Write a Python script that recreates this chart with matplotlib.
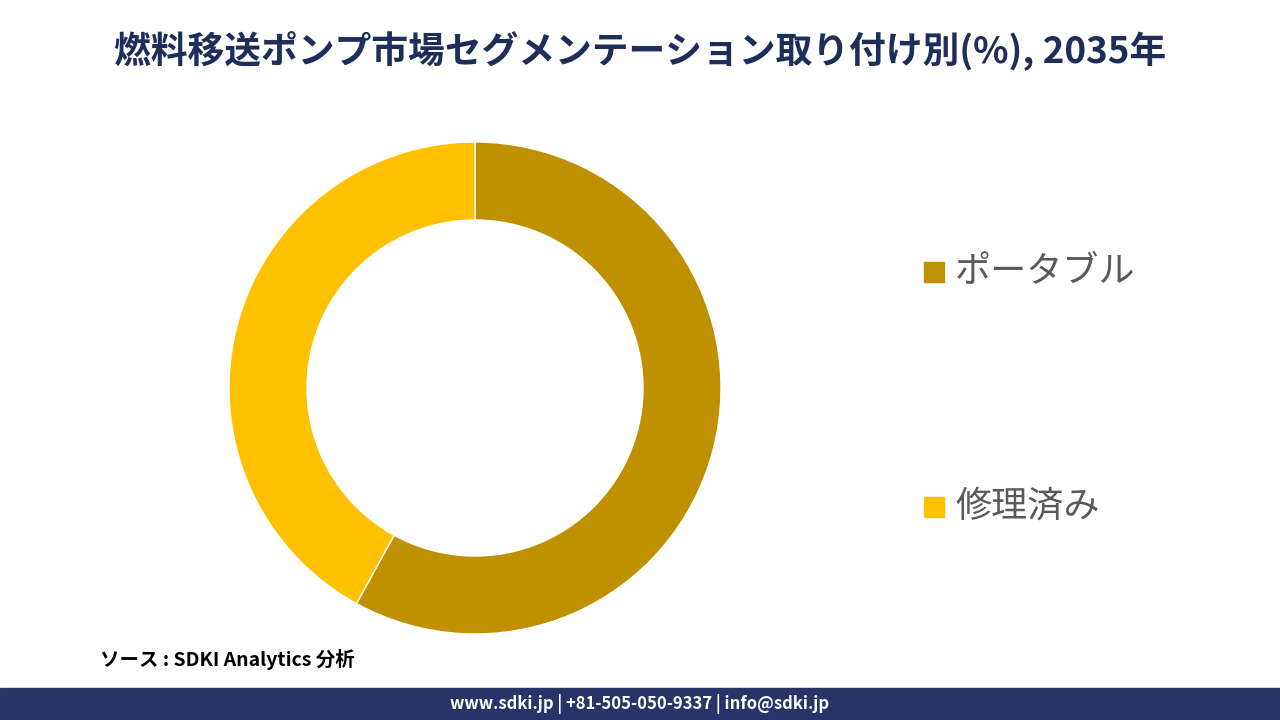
import matplotlib.pyplot as plt
from matplotlib.patches import Rectangle

plt.rcParams['font.family'] = ['Noto Sans CJK JP', 'DejaVu Sans']

title = "燃料移送ポンプ市場セグメンテーション取り付け別(%), 2035年"
labels = ["ポータブル", "修理済み"]
shares = [58, 42]
colors = ["#BF9000", "#FFC000"]

fig = plt.figure(figsize=(12.8, 7.2), dpi=100)
fig.patch.set_facecolor("white")

# donut
ax = fig.add_axes([475 / 1280 - 250 / 1280, 1 - (388 + 250) / 720, 500 / 1280, 500 / 720])
ax.pie(shares, colors=colors, startangle=90, counterclock=False, radius=246 / 250,
       wedgeprops=dict(width=78 / 250, edgecolor="white", linewidth=1))
ax.set_xlim(-1, 1)
ax.set_ylim(-1, 1)
ax.set_aspect("equal")
ax.axis("off")

# title
fig.text(0.5, 1 - 50 / 720, title, ha="center", va="center", fontsize=26.5,
         fontweight="bold", color="#1F2D5A")

# legend
for i, (lab, col) in enumerate(zip(labels, colors)):
    y = 1 - (272 + i * 235) / 720
    fig.patches.append(Rectangle((924 / 1280, y - 10 / 720), 20 / 1280, 20 / 720,
                                 transform=fig.transFigure, color=col))
    fig.text(955 / 1280, y, lab, ha="left", va="center", fontsize=26, color="#595959")

# source
fig.text(100 / 1280, 1 - 660 / 720, "ソース : SDKI Analytics 分析", ha="left", va="center",
         fontsize=14, fontstyle="italic", fontweight="bold", color="black")

# footer bar
fig.patches.append(Rectangle((0, 0), 1, 32 / 720, transform=fig.transFigure, color="#263468"))
fig.text(0.5, 16 / 720, "www.sdki.jp | +81-505-050-9337 | info@sdki.jp", ha="center",
         va="center", fontsize=12, fontweight="bold", color="white")

fig.savefig("out.png", dpi=100)
